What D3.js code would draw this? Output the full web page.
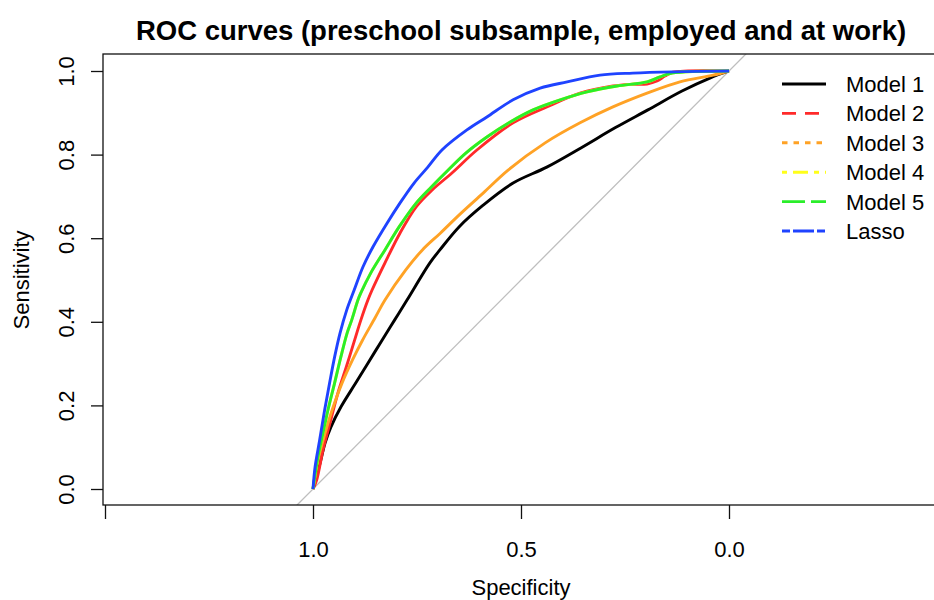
<!DOCTYPE html>
<html>
<head>
<meta charset="utf-8">
<script src="https://cdn.jsdelivr.net/npm/d3@7"></script>
<style>
  html, body { margin: 0; padding: 0; background: #fff; }
  svg text { font-family: "Liberation Sans", Arial, Helvetica, sans-serif; fill: #000; }
</style>
</head>
<body>
<div id="chart"></div>
<script>
// ROC points: [specificity, sensitivity]
var model1 = [[1,0],[0.983,0.062],[0.971,0.11],[0.957,0.148],[0.933,0.196],[0.897,0.254],[0.868,0.301],[0.834,0.356],[0.804,0.404],[0.774,0.452],[0.719,0.541],[0.695,0.572],[0.649,0.627],[0.591,0.679],[0.519,0.732],[0.438,0.77],[0.356,0.816],[0.274,0.864],[0.195,0.907],[0.113,0.952],[0.046,0.983],[0,1]];
var model2 = [[1,0],[0.991,0.022],[0.976,0.093],[0.959,0.158],[0.94,0.23],[0.92,0.292],[0.9,0.356],[0.885,0.404],[0.868,0.452],[0.858,0.476],[0.827,0.541],[0.791,0.612],[0.752,0.675],[0.714,0.715],[0.666,0.756],[0.606,0.811],[0.519,0.876],[0.438,0.914],[0.358,0.947],[0.279,0.964],[0.238,0.968],[0.197,0.969],[0.173,0.976],[0.154,0.988],[0.135,0.997],[0,1]];
var model3 = [[1,0],[0.988,0.069],[0.971,0.134],[0.954,0.189],[0.93,0.254],[0.905,0.309],[0.881,0.356],[0.851,0.409],[0.827,0.452],[0.777,0.524],[0.737,0.572],[0.694,0.612],[0.644,0.66],[0.591,0.708],[0.531,0.763],[0.442,0.828],[0.358,0.876],[0.279,0.914],[0.197,0.947],[0.118,0.974],[0.038,0.99],[0,1]];
var model4 = [[1,0],[0.988,0.077],[0.976,0.134],[0.964,0.189],[0.948,0.254],[0.933,0.316],[0.918,0.373],[0.907,0.404],[0.892,0.452],[0.885,0.469],[0.861,0.517],[0.827,0.572],[0.793,0.627],[0.752,0.684],[0.716,0.722],[0.675,0.763],[0.632,0.804],[0.582,0.842],[0.526,0.878],[0.471,0.907],[0.406,0.931],[0.341,0.95],[0.269,0.964],[0.197,0.974],[0.166,0.986],[0.137,0.995],[0,1]];
var model5 = [[1,0],[0.988,0.077],[0.976,0.134],[0.964,0.189],[0.948,0.254],[0.933,0.316],[0.918,0.373],[0.907,0.404],[0.892,0.452],[0.885,0.469],[0.861,0.517],[0.827,0.572],[0.793,0.627],[0.752,0.684],[0.716,0.722],[0.675,0.763],[0.632,0.804],[0.582,0.842],[0.526,0.878],[0.471,0.907],[0.406,0.931],[0.341,0.95],[0.269,0.964],[0.197,0.974],[0.166,0.986],[0.137,0.995],[0,1]];
var lasso = [[1,0],[0.995,0.053],[0.984,0.117],[0.972,0.189],[0.96,0.254],[0.948,0.316],[0.935,0.373],[0.919,0.428],[0.901,0.476],[0.88,0.531],[0.856,0.579],[0.822,0.636],[0.791,0.684],[0.757,0.732],[0.724,0.77],[0.69,0.811],[0.63,0.859],[0.582,0.89],[0.519,0.931],[0.454,0.959],[0.389,0.974],[0.31,0.99],[0.231,0.995],[0.135,0.998],[0,1]];

var seriesNames = ["Model 1", "Model 2", "Model 3", "Model 4", "Model 5", "Lasso"];
var seriesData = [model1, model2, model3, model4, model5, lasso];
var seriesColors = ["#000000", "#ff2a2a", "#ffa225", "#ffff1a", "#2aee2a", "#1f43ff"];
var seriesDash = [null, "14,9", "5.5,6", "5,6,15,6", "23,6", "8,3,21,3"];
var xTicks = [1.5, 1.0, 0.5, 0.0, -0.5];
var yTicks = [0, 0.2, 0.4, 0.6, 0.8, 1.0];

var W = 934, H = 600;
var box = { left: 103, top: 54, right: 939, bottom: 505 };

var svg = d3.select("#chart").append("svg").attr("width", W).attr("height", H);

// asp = 1: same pixels per unit on both axes
var x = d3.scaleLinear().domain([1, 0]).range([313, 729]);
var y = d3.scaleLinear().domain([0, 1]).range([489, 71]);

svg.append("clipPath").attr("id", "plotclip").append("rect")
    .attr("x", box.left).attr("y", box.top)
    .attr("width", box.right - box.left).attr("height", box.bottom - box.top);

var plot = svg.append("g").attr("clip-path", "url(#plotclip)");

// chance diagonal
plot.append("line")
    .attr("x1", x(1.5)).attr("y1", y(-0.5))
    .attr("x2", x(-0.5)).attr("y2", y(1.5))
    .attr("stroke", "#bebebe").attr("stroke-width", 1.3);

var line = d3.line()
    .x(function(d) { return x(d[0]); })
    .y(function(d) { return y(d[1]); })
    .curve(d3.curveCatmullRom.alpha(0.5));

seriesData.forEach(function(s, i) {
    plot.append("path").datum(s)
        .attr("d", line)
        .attr("fill", "none")
        .attr("stroke", seriesColors[i])
        .attr("stroke-width", 2.9)
        .attr("stroke-linejoin", "round");
});

// box
svg.append("rect")
    .attr("x", box.left).attr("y", box.top)
    .attr("width", box.right - box.left).attr("height", box.bottom - box.top)
    .attr("fill", "none").attr("stroke", "#111").attr("stroke-width", 1.3);

// x axis
var xAxis = d3.axisBottom(x).tickValues(xTicks).tickSize(14).tickPadding(22)
    .tickFormat(function(d) { return d >= 0 && d <= 1 ? d3.format(".1f")(d) : ""; });
var gx = svg.append("g").attr("transform", "translate(0," + box.bottom + ")").call(xAxis);
gx.select(".domain").remove();
gx.selectAll(".tick line").attr("stroke", "#111").attr("stroke-width", 1.3);
gx.selectAll(".tick text").attr("font-size", 22).attr("font-family", "Liberation Sans, Arial, sans-serif").attr("fill", "#000");

// y axis, labels turned like R (las = 0)
var yAxis = d3.axisLeft(y).tickValues(yTicks).tickSize(12).tickFormat(d3.format(".1f"));
var gy = svg.append("g").attr("transform", "translate(" + box.left + ",0)").call(yAxis);
gy.select(".domain").remove();
gy.selectAll(".tick line").attr("stroke", "#111").attr("stroke-width", 1.3);
gy.selectAll(".tick text")
    .attr("font-size", 22).attr("font-family", "Liberation Sans, Arial, sans-serif").attr("fill", "#000")
    .attr("x", null).attr("dy", null)
    .attr("text-anchor", "middle")
    .attr("transform", "translate(-29,0) rotate(-90)");

// titles
svg.append("text").attr("x", (box.left + box.right) / 2).attr("y", 40)
    .attr("text-anchor", "middle").attr("font-size", 27.5).attr("font-weight", "bold")
    .text("ROC curves (preschool subsample, employed and at work)");
svg.append("text").attr("x", (box.left + box.right) / 2).attr("y", 595)
    .attr("text-anchor", "middle").attr("font-size", 22).text("Specificity");
svg.append("text").attr("transform", "translate(29," + y(0.5) + ") rotate(-90)")
    .attr("text-anchor", "middle").attr("font-size", 22).text("Sensitivity");

// legend, no frame
var leg = svg.append("g");
seriesNames.forEach(function(name, i) {
    var ly = 84 + i * 29.4;
    var l = leg.append("line")
        .attr("x1", 782).attr("x2", 826).attr("y1", ly).attr("y2", ly)
        .attr("stroke", seriesColors[i]).attr("stroke-width", 2.9);
    if (seriesDash[i]) l.attr("stroke-dasharray", seriesDash[i]);
    leg.append("text").attr("x", 846).attr("y", ly + 8)
        .attr("font-size", 22).text(name);
});
</script>
</body>
</html>
